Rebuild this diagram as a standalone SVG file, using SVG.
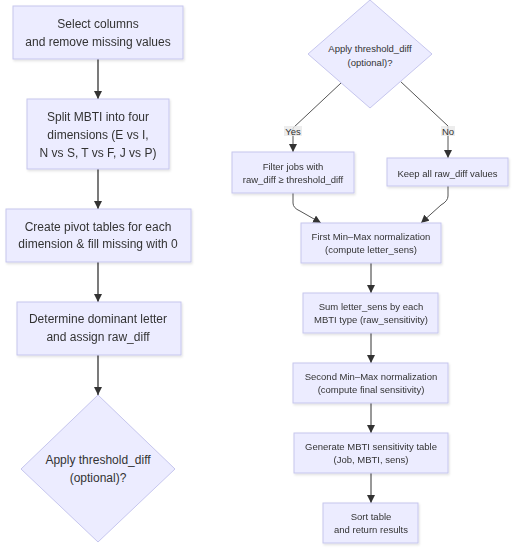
<svg xmlns="http://www.w3.org/2000/svg" width="513" height="549" viewBox="0 0 513 549">
<style>
.n{fill:#ECECFF;stroke:#c6c6ee;stroke-width:1}
.t{font-family:"Liberation Sans",Arial,sans-serif;fill:#333;text-anchor:middle}
.l{font-size:12px}
.r{font-size:9.5px}
.e{fill:none;stroke:#333;stroke-width:1}
.el{stroke-width:1.3}
.ed{stroke:#555}
.lb{fill:#e8e8e8;opacity:0.8}
</style>
<defs>
<marker id="ah" viewBox="0 0 10 10" refX="10" refY="5" markerWidth="8" markerHeight="8" markerUnits="userSpaceOnUse" orient="auto">
<path d="M0,0 L10,5 L0,10 z" fill="#333"/>
</marker>
<filter id="sh" x="-10%" y="-10%" width="120%" height="130%">
<feDropShadow dx="1" dy="1.5" stdDeviation="1" flood-color="#000" flood-opacity="0.12"/>
</filter>
</defs>
<g id="edges">
<path class="e el" d="M98,59 L98,99" marker-end="url(#ah)"/>
<path class="e el" d="M98,169 L98,209" marker-end="url(#ah)"/>
<path class="e el" d="M98,262 L98,302" marker-end="url(#ah)"/>
<path class="e el" d="M98,355 L98,395" marker-end="url(#ah)"/>
<path class="e ed" d="M341,83 L293,128 L293,152" marker-end="url(#ah)"/>
<path class="e ed" d="M400,81 L448,126 L448,158" marker-end="url(#ah)"/>
<path class="e ed" d="M293,193 L293,203 Q293,208 300,211 L321,223" marker-end="url(#ah)"/>
<path class="e ed" d="M448,186 L448,196 Q448,201 441,205 L421,223" marker-end="url(#ah)"/>
<path class="e" d="M371,263 L371,293" marker-end="url(#ah)"/>
<path class="e" d="M371,333 L371,363" marker-end="url(#ah)"/>
<path class="e" d="M371,403 L371,433" marker-end="url(#ah)"/>
<path class="e" d="M371,473 L371,503" marker-end="url(#ah)"/>
<rect class="lb" x="284" y="126" width="18" height="10"/>
<text class="t r" x="293" y="134.5">Yes</text>
<rect class="lb" x="441" y="126" width="14" height="10"/>
<text class="t r" x="448" y="134.5">No</text>
</g>
<g id="n1" filter="url(#sh)"><rect class="n" x="13" y="6" width="170" height="53"/>
<text class="t l" x="98" y="28">Select columns</text><text class="t l" x="98" y="45.5">and remove missing values</text></g>
<g id="n2" filter="url(#sh)"><rect class="n" x="27" y="99" width="142" height="70"/>
<text class="t l" x="98" y="121">Split MBTI into four</text><text class="t l" x="98" y="139">dimensions (E vs I,</text><text class="t l" x="98" y="157">N vs S, T vs F, J vs P)</text></g>
<g id="n3" filter="url(#sh)"><rect class="n" x="6" y="209" width="185" height="53"/>
<text class="t l" x="98" y="231">Create pivot tables for each</text><text class="t l" x="98" y="248">dimension &amp; fill missing with 0</text></g>
<g id="n4" filter="url(#sh)"><rect class="n" x="17" y="302" width="164" height="53"/>
<text class="t l" x="98" y="323">Determine dominant letter</text><text class="t l" x="98" y="341">and assign raw_diff</text></g>
<g id="n5"><polygon class="n" points="98,395 175,469 98,542 21,469"/>
<text class="t l" x="98" y="464">Apply threshold_diff</text><text class="t l" x="98" y="482">(optional)?</text></g>
<g id="n6"><polygon class="n" points="370,0 432,54 370,108 308,54"/>
<text class="t r" x="370" y="51.5">Apply threshold_diff</text><text class="t r" x="370" y="65.5">(optional)?</text></g>
<g id="n7" filter="url(#sh)"><rect class="n" x="232" y="152" width="122" height="41"/>
<text class="t r" x="293" y="169.5">Filter jobs with</text><text class="t r" x="293" y="182.5">raw_diff ≥ threshold_diff</text></g>
<g id="n8" filter="url(#sh)"><rect class="n" x="387" y="158" width="121" height="28"/>
<text class="t r" x="447.5" y="176.5">Keep all raw_diff values</text></g>
<g id="n9" filter="url(#sh)"><rect class="n" x="301" y="223" width="140" height="40"/>
<text class="t r" x="371" y="239.5">First Min–Max normalization</text><text class="t r" x="371" y="252.5">(compute letter_sens)</text></g>
<g id="n10" filter="url(#sh)"><rect class="n" x="303" y="293" width="135" height="40"/>
<text class="t r" x="371" y="309.5">Sum letter_sens by each</text><text class="t r" x="371" y="322.5">MBTI type (raw_sensitivity)</text></g>
<g id="n11" filter="url(#sh)"><rect class="n" x="293" y="363" width="155" height="40"/>
<text class="t r" x="371" y="379.5">Second Min–Max normalization</text><text class="t r" x="371" y="392.5">(compute final sensitivity)</text></g>
<g id="n12" filter="url(#sh)"><rect class="n" x="294" y="433" width="154" height="40"/>
<text class="t r" x="371" y="449.5">Generate MBTI sensitivity table</text><text class="t r" x="371" y="462.5">(Job, MBTI, sens)</text></g>
<g id="n13" filter="url(#sh)"><rect class="n" x="323" y="503" width="95" height="40"/>
<text class="t r" x="371" y="519.5">Sort table</text><text class="t r" x="371" y="532.5">and return results</text></g>
</svg>
